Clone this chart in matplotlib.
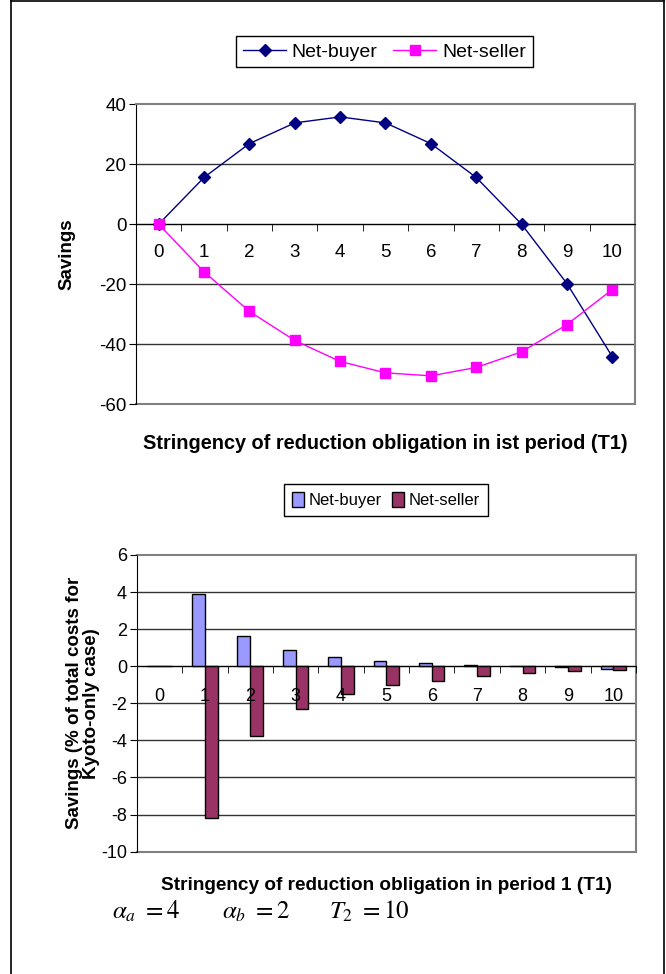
import matplotlib
matplotlib.use("Agg")
import matplotlib.pyplot as plt
from matplotlib.lines import Line2D
import numpy as np

plt.rcParams['font.family'] = ['Liberation Sans', 'DejaVu Sans']
plt.rcParams['mathtext.fontset'] = 'stix'

# data
t1 = list(range(0, 11))
buyer_savings = [0, 15.6, 26.9, 33.8, 35.8, 33.8, 26.9, 15.6, 0, -19.8, -44.2]
seller_savings = [0, -15.9, -29.1, -38.8, -45.8, -49.6, -50.6, -47.8, -42.6, -33.5, -21.8]

buyer_pct = [0, 3.9, 1.64, 0.88, 0.52, 0.27, 0.18, 0.08, 0.0, -0.06, -0.17]
seller_pct = [0, -8.17, -3.74, -2.28, -1.48, -1.03, -0.78, -0.53, -0.36, -0.27, -0.18]

fig = plt.figure(figsize=(6.66, 9.74), dpi=100)

def style_axes(ax, ymin, ymax, ystep, tick_fs, pad):
    ax.set_xlim(-0.5, 10.5)
    ax.set_ylim(ymin, ymax)
    yt = np.arange(ymin, ymax + ystep / 2, ystep)
    ax.set_yticks(yt)
    ax.set_yticklabels([str(int(v)) for v in yt], fontsize=tick_fs)
    for v in yt[1:-1]:
        ax.axhline(v, color='#333333', lw=1, zorder=0)
    ax.spines['bottom'].set_position(('data', 0))
    ax.spines['bottom'].set_color('black')
    ax.spines['left'].set_color('black')
    ax.spines['top'].set_color('#808080')
    ax.spines['right'].set_color('#808080')
    ax.spines['top'].set_linewidth(1.5)
    ax.spines['right'].set_linewidth(1.5)
    ax.axhline(ymin, color='#808080', lw=1.5, clip_on=False, zorder=0)
    ax.set_xticks(t1)
    ax.set_xticklabels([str(v) for v in t1], fontsize=tick_fs)
    ax.set_xticks(np.arange(-0.5, 11, 1), minor=True)
    ax.tick_params(axis='x', which='major', length=0, pad=pad)
    ax.tick_params(axis='x', which='minor', length=5, direction='out', color='black')
    ax.tick_params(axis='y', length=5, direction='out', pad=2)

# top chart
ax1 = fig.add_axes([0.2042, 0.5852, 0.7492, 0.3077])
style_axes(ax1, -60, 40, 20, 13.5, 14)
ax1.plot(t1, buyer_savings, color='#000080', marker='D', markersize=6, lw=1,
         label='Net-buyer', zorder=3, clip_on=False)
ax1.plot(t1, seller_savings, color='#FF00FF', marker='s', markersize=7.5, lw=1,
         label='Net-seller', zorder=3, clip_on=False)
ax1.set_ylabel('Savings', fontsize=13.5, fontweight='bold')
ax1.yaxis.set_label_coords(-0.122, 0.5)
ax1.set_xlabel('Stringency of reduction obligation in ist period (T1)', fontsize=14.3,
               fontweight='bold')
ax1.xaxis.set_label_coords(0.5, -0.1)
fig.legend(handles=ax1.get_lines()[-2:], loc='center', ncol=2,
           bbox_to_anchor=(384.5 / 666, 1 - 51.7 / 974), fontsize=14,
           frameon=True, fancybox=False, edgecolor='black', framealpha=1,
           handlelength=2.2, handletextpad=0.3, columnspacing=0.8,
           borderpad=0.35).get_frame().set_linewidth(1)

# bottom chart
ax2 = fig.add_axes([0.2053, 0.1256, 0.7497, 0.3046])
style_axes(ax2, -10, 6, 2, 13, 16)
ax2.set_axisbelow(False)
x = np.array(t1)
b1 = ax2.bar(x - 0.14, buyer_pct, width=0.28, color='#9999FF', edgecolor='black',
             lw=1, label='Net-buyer', zorder=2)
b2 = ax2.bar(x + 0.14, seller_pct, width=0.28, color='#993366', edgecolor='black',
             lw=1, label='Net-seller', zorder=2)
ax2.set_ylabel('Savings (% of total costs for\nKyoto-only case)', fontsize=13.5,
               fontweight='bold', linespacing=1.0)
ax2.yaxis.set_label_coords(-0.074, 0.5)
ax2.set_xlabel('Stringency of reduction obligation in period 1 (T1)', fontsize=13.7,
               fontweight='bold')
ax2.xaxis.set_label_coords(0.5, -0.085)
leg2 = fig.legend(handles=[b1, b2], loc='center', ncol=2,
                  bbox_to_anchor=(386 / 666, 1 - 500 / 974),
                  prop={'size': 12},
                  frameon=True, fancybox=False, edgecolor='black', framealpha=1,
                  handlelength=0.7, handleheight=1.0, handletextpad=0.3,
                  columnspacing=0.6, borderpad=0.5)
leg2.get_frame().set_linewidth(1)

# parameter line
fig.text(112 / 666, 1 - 919 / 974, r'$\alpha_a\ = 4$', fontsize=18, va='baseline')
fig.text(222 / 666, 1 - 919 / 974, r'$\alpha_b\ = 2$', fontsize=18, va='baseline')
fig.text(329 / 666, 1 - 919 / 974, r'$T_2\ = 10$', fontsize=18, va='baseline')

# outer frame
for xs, ys in [((11 / 666, 11 / 666), (0, 1)),
               ((11 / 666, 664 / 666), (1 - 1 / 974, 1 - 1 / 974)),
               ((664 / 666, 664 / 666), (1, 0))]:
    fig.add_artist(Line2D(xs, ys, color='black', lw=1.2))

fig.savefig('out.png', dpi=100)
